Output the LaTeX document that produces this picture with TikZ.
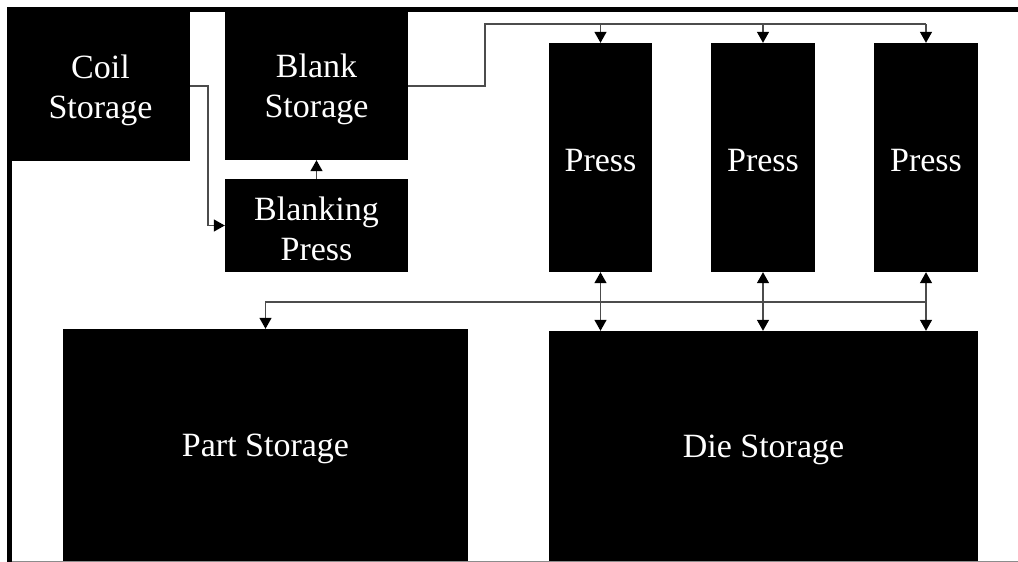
\documentclass[tikz,border=0pt]{standalone}
\usepackage{fontspec}
\setmainfont{Liberation Serif}
\usetikzlibrary{arrows.meta,calc}
\begin{document}
\begin{tikzpicture}[x=1pt,y=-1pt,
  box/.style={fill=black, draw=none, inner sep=0pt},
  txt/.style={text=white, inner sep=0pt, align=center,
    font=\fontsize{34}{40}\selectfont},
  conn/.style={draw=black!70, line width=1.3pt},
  arr/.style={-{Triangle[length=11pt,width=12pt,color=black]}},
  dblarr/.style={{Triangle[length=11pt,width=12pt,color=black]}-{Triangle[length=11pt,width=12pt,color=black]}}]
\useasboundingbox (0,0) rectangle (1018,562);
% frame
\fill[black] (7,7) rectangle (1018,11.5);
\fill[black] (7,7) rectangle (11.5,562);
% boxes
\node[box, minimum width=179pt, minimum height=150pt] (coil) at (100.5,86) {};
\node[box, minimum width=183pt, minimum height=149pt] (blank) at (316.5,85.5) {};
\node[box, minimum width=183pt, minimum height=93pt] (blanking) at (316.5,225.5) {};
\node[box, minimum width=103pt, minimum height=229pt] (p1) at (600.5,157.5) {};
\node[box, minimum width=104pt, minimum height=229pt] (p2) at (763,157.5) {};
\node[box, minimum width=104pt, minimum height=229pt] (p3) at (926,157.5) {};
\node[box, minimum width=405pt, minimum height=233pt] (part) at (265.5,445.5) {};
\node[box, minimum width=429pt, minimum height=231pt] (die) at (763.5,446.5) {};
% texts
\node[txt] (coilt) at ([yshift=-4pt]coil.center) {Coil\\Storage};
\node[txt] (blankt) at ([yshift=-4pt]blank.center) {Blank\\Storage};
\node[txt] (blankingt) at ([yshift=-3.5pt]blanking.center) {Blanking\\Press};
\node[txt] (p1t) at ([yshift=-3.5pt]p1.center) {Press};
\node[txt] (p2t) at ([yshift=-3.5pt]p2.center) {Press};
\node[txt] (p3t) at ([yshift=-3.5pt]p3.center) {Press};
\node[txt] (partt) at ([yshift=-3.5pt]part.center) {Part Storage};
\node[txt] (diet) at ([yshift=-3.5pt]die.center) {Die Storage};
% connectors
\coordinate (top) at (485,24);
\coordinate (bus) at (0,302);
\draw[conn,arr] (coil.east |- 0,86) -- (208,86) |- (blanking.west);
\draw[conn,arr] (blanking.north) -- (blank.south);
\draw[conn] (blank.east |- 0,86) -- (485,86) -- (top) -- (p3.north |- top);
\draw[conn,arr] (p1.north |- top) -- (p1.north);
\draw[conn,arr] (p2.north |- top) -- (p2.north);
\draw[conn,arr] (p3.north |- top) -- (p3.north);
\draw[conn,dblarr] (p1.south) -- (p1.south |- die.north);
\draw[conn,dblarr] (p2.south) -- (p2.south |- die.north);
\draw[conn,dblarr] (p3.south) -- (p3.south |- die.north);
\draw[conn,arr] (p3.south |- bus) -| (part.north);
% bottom edge
\draw[black!45, line width=1pt] (11.5,561.3) -- (1018,561.3);
\end{tikzpicture}
\end{document}
